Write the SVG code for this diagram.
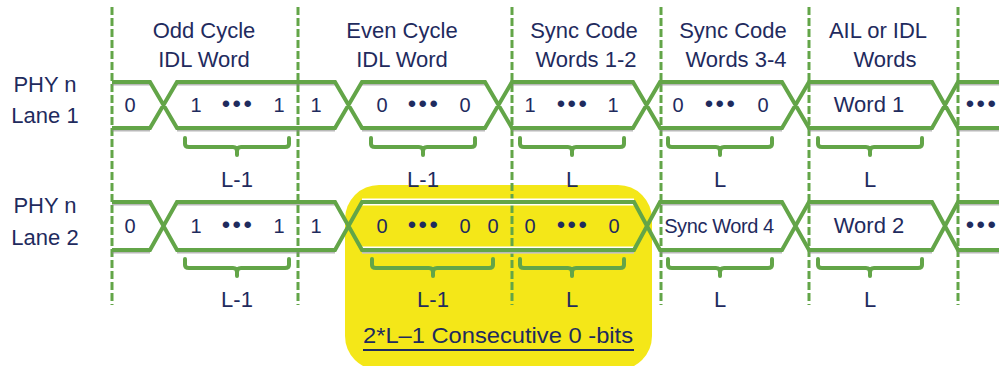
<svg xmlns="http://www.w3.org/2000/svg" width="999" height="366" viewBox="0 0 999 366">
<style>
text{font-family:"Liberation Sans",Arial,sans-serif;fill:#1f2b5e;text-anchor:middle}
.h{font-size:22px}
.d{font-size:20px}
.dots{font-size:24px;letter-spacing:2.5px}
.lane{fill:none;stroke:#63a548;stroke-width:4}
.shadow{fill:none;stroke:#8a8a8a;stroke-width:3;opacity:0.6}
.dash{stroke:#63a548;stroke-width:3;stroke-dasharray:8 3}
.brace{fill:none;stroke:#63a548;stroke-width:4;stroke-linejoin:round;stroke-linecap:round}
</style>
<defs>
<path id="br1" d="M0 0 V6 Q0 9 4 9 H48 Q52 9 52 13 V17 M52 13 Q52 9 56 9 H100 Q104 9 104 6 V0"/>
</defs>
<rect id="highlight" x="345" y="185" width="307" height="185" rx="34" fill="#f4e718"/>
<g id="gridlines">
<line class="dash" x1="112" y1="7" x2="112" y2="305"/>
<line class="dash" x1="298" y1="7" x2="298" y2="305"/>
<line class="dash" x1="512" y1="7" x2="512" y2="305"/>
<line class="dash" x1="661" y1="7" x2="661" y2="305"/>
<line class="dash" x1="809" y1="7" x2="809" y2="305"/>
<line class="dash" x1="958" y1="7" x2="958" y2="305"/>
</g>
<g id="headers" class="h">
<text class="h" x="204" y="38">Odd Cycle</text><text class="h" x="204" y="67">IDL Word</text>
<text class="h" x="402" y="38">Even Cycle</text><text class="h" x="402" y="67">IDL Word</text>
<text class="h" x="584" y="38">Sync Code</text><text class="h" x="586" y="67">Words 1-2</text>
<text class="h" x="733" y="38">Sync Code</text><text class="h" x="736" y="67">Words 3-4</text>
<text class="h" x="878" y="38">AIL or IDL</text><text class="h" x="885" y="67">Words</text>
</g>
<g id="lane-labels">
<text class="h" x="45" y="92">PHY n</text><text class="h" x="45" y="123">Lane 1</text>
<text class="h" x="45" y="213">PHY n</text><text class="h" x="45" y="245">Lane 2</text>
</g>
<g id="lane1">
<path class="shadow" d="M112 84H150M177 84H335M362 84H485M512 84H633M660 84H782M809 84H932M958 84H999M112 130H150M177 130H335M362 130H485M512 130H633M660 130H782M809 130H932M958 130H999"/>
<path class="lane" d="M112 82H150L177 128H335L362 82H485L512 128H633L660 82H782L809 128H932L958 82H999M112 128H150L177 82H335L362 128H485L512 82H633L660 128H782L809 82H932L958 128H999"/>
<text class="d" x="130" y="112">0</text>
<text class="d" x="196" y="112">1</text><text class="dots" x="238" y="112">•••</text><text class="d" x="279" y="112">1</text>
<text class="d" x="316" y="112">1</text>
<text class="d" x="382" y="112">0</text><text class="dots" x="424" y="112">•••</text><text class="d" x="465" y="112">0</text>
<text class="d" x="530" y="112">1</text><text class="dots" x="573" y="112">•••</text><text class="d" x="613" y="112">1</text>
<text class="d" x="678" y="112">0</text><text class="dots" x="721" y="112">•••</text><text class="d" x="763" y="112">0</text>
<text class="h" x="869" y="112">Word 1</text>
<text class="dots" x="982" y="112">•••</text>
</g>
<g id="lane2">
<path d="M362 202H634M362 250H634" fill="none" stroke="#fff" stroke-width="7"/>
<path class="shadow" d="M112 204H150M177 204H335M660 204H782M809 204H932M958 204H999M112 252H150M177 252H335M362 252H634M660 252H782M809 252H932M958 252H999"/>
<path class="lane" d="M112 202H150L177 250H335L362 202H634L660 250H782L809 202H932L958 250H999M112 250H150L177 202H335L362 250H634L660 202H782L809 250H932L958 202H999"/>
<text class="d" x="130" y="233">0</text>
<text class="d" x="196" y="233">1</text><text class="dots" x="238" y="233">•••</text><text class="d" x="279" y="233">1</text>
<text class="d" x="316" y="233">1</text>
<text class="d" x="382" y="233">0</text><text class="dots" x="424" y="233">•••</text><text class="d" x="465" y="233">0</text><text class="d" x="493" y="233">0</text>
<text class="d" x="530" y="233">0</text><text class="dots" x="573" y="233">•••</text><text class="d" x="614" y="233">0</text>
<text class="d" x="719" y="233" letter-spacing="-0.4">Sync Word 4</text>
<text class="h" x="869" y="233">Word 2</text>
<text class="dots" x="982" y="233">•••</text>
</g>
<g id="braces1" class="brace">
<use href="#br1" transform="translate(185 138)"/>
<use href="#br1" transform="translate(371 138)"/>
<use href="#br1" transform="translate(520 138)"/>
<use href="#br1" transform="translate(668 138)"/>
<use href="#br1" transform="translate(818 138)"/>
</g>
<g id="braces2" class="brace">
<use href="#br1" transform="translate(185 259)"/>
<path d="M372 259 V265 Q372 268 376 268 H429 Q433 268 433 272 V276 M433 272 Q433 268 437 268 H489 Q493 268 493 265 V259"/>
<use href="#br1" transform="translate(520 259)"/>
<use href="#br1" transform="translate(668 259)"/>
<use href="#br1" transform="translate(818 259)"/>
</g>
<g id="length-labels">
<text class="h" x="237" y="187">L-1</text><text class="h" x="423" y="187">L-1</text><text class="h" x="572" y="187">L</text><text class="h" x="720" y="187">L</text><text class="h" x="870" y="187">L</text>
<text class="h" x="237" y="307">L-1</text><text class="h" x="433" y="307">L-1</text><text class="h" x="572" y="307">L</text><text class="h" x="720" y="307">L</text><text class="h" x="870" y="307">L</text>
</g>
<g id="note">
<text class="h" x="498" y="343" textLength="270" lengthAdjust="spacingAndGlyphs">2*L–1 Consecutive 0 -bits</text>
<line x1="363" y1="350" x2="634" y2="350" stroke="#1f2b5e" stroke-width="2"/>
</g>
</svg>
